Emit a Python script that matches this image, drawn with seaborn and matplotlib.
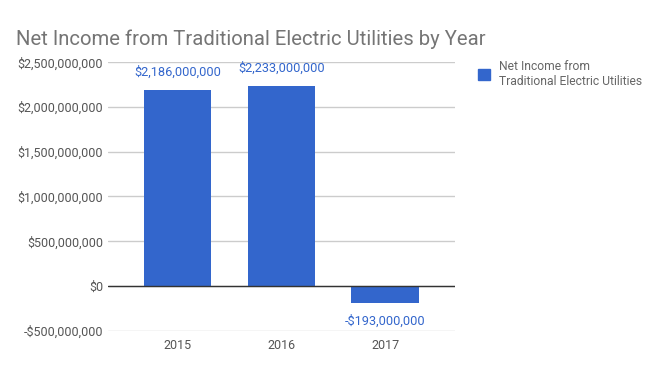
import pandas as pd
import seaborn as sns
import matplotlib.pyplot as plt
from matplotlib.patches import Patch
from matplotlib.ticker import FuncFormatter

# Data
years = ['2015', '2016', '2017']
net_income = [2186000000, 2233000000, -193000000]
bar_labels = ['$2,186,000,000', '$2,233,000,000', '-$193,000,000']
series_name = 'Net Income from\nTraditional Electric Utilities'

df = pd.DataFrame({'year': years, 'income': net_income})

sns.set_style('white')
plt.rcParams['font.family'] = ['Roboto', 'DejaVu Sans']

blue = '#3366cc'
fig = plt.figure(figsize=(6.62, 3.71), dpi=100)
ax = fig.add_axes([0.163, 0.108, 0.524, 0.725])

sns.barplot(data=df, x='year', y='income', color=blue, saturation=1,
            width=0.65, linewidth=0, ax=ax, zorder=3)

ax.set_ylim(-503000000, 2503000000)
ax.set_xlim(-0.67, 2.67)
ax.set_yticks(range(-500000000, 2500000001, 500000000))


def money(v, pos):
    v = int(round(v))
    return ('-$' if v < 0 else '$') + f'{abs(v):,}'


ax.yaxis.set_major_formatter(FuncFormatter(money))
ax.grid(axis='y', color='#cccccc', linewidth=1, zorder=0)
ax.axhline(0, color='#333333', linewidth=1, zorder=4)
for s in ax.spines.values():
    s.set_visible(False)
ax.tick_params(axis='both', length=0, labelsize=9, colors='#555555')
ax.tick_params(axis='x', pad=6)
ax.set_xlabel('')
ax.set_ylabel('')

# value labels
for i, (v, lab) in enumerate(zip(net_income, bar_labels)):
    if v >= 0:
        ax.text(i, v + 125000000, lab, ha='center', va='bottom',
                color=blue, fontsize=9.2)
    else:
        ax.text(i, v - 130000000, lab, ha='center', va='top',
                color=blue, fontsize=9.2)

fig.text(0.024, 0.893, 'Net Income from Traditional Electric Utilities by Year',
         fontsize=14.6, color='#757575', va='center', ha='left')

leg = fig.legend(handles=[Patch(facecolor=blue, edgecolor=blue)],
                 labels=[series_name], loc='upper left',
                 bbox_to_anchor=(0.705, 0.868), frameon=False,
                 fontsize=8.7, handlelength=1.0, handleheight=1.0,
                 handletextpad=0.8, labelcolor='#666666')

fig.savefig('out.png', dpi=100)
